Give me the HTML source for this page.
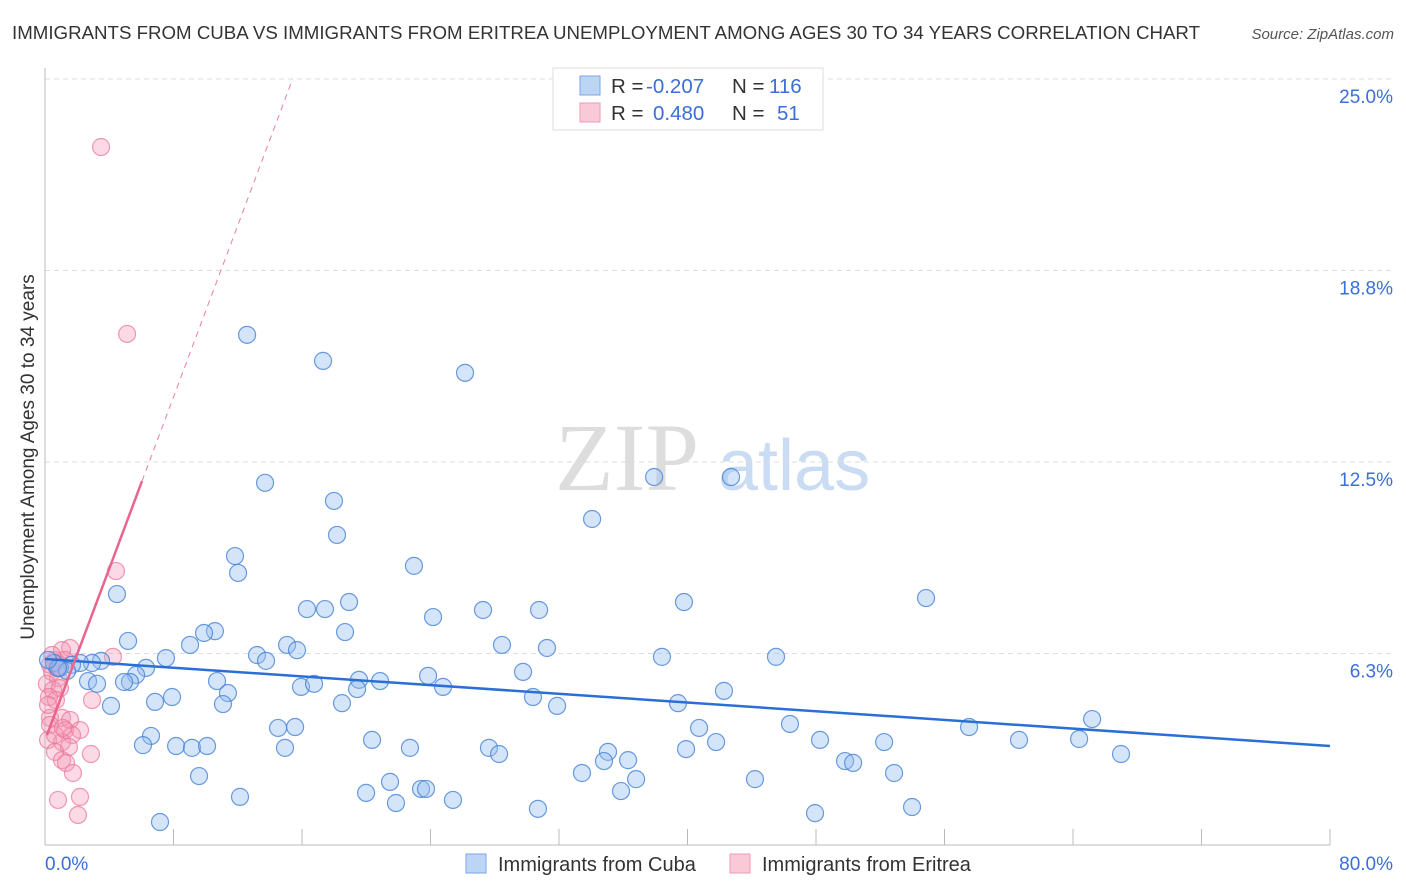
<!DOCTYPE html>
<html><head><meta charset="utf-8"><style>
body{margin:0;background:#fff;font-family:"Liberation Sans",sans-serif;}
svg{display:block}
</style></head><body>
<svg id="chart" width="1406" height="892">
<text x="12" y="39" font-size="18.7" fill="#333" textLength="1188">IMMIGRANTS FROM CUBA VS IMMIGRANTS FROM ERITREA UNEMPLOYMENT AMONG AGES 30 TO 34 YEARS CORRELATION CHART</text>
<text x="1394" y="39" font-size="15" fill="#555" font-style="italic" text-anchor="end">Source: ZipAtlas.com</text>
<g>
<text x="555" y="490" font-size="96" font-family="Liberation Serif,serif" fill="#ddd">ZIP</text>
<text x="718" y="490" font-size="72" fill="#c9dcf3">atlas</text>
</g>
<g id="grid"></g>
<g id="marks"></g>
<text transform="translate(34,457) rotate(-90)" font-size="19" fill="#333" text-anchor="middle">Unemployment Among Ages 30 to 34 years</text>
<text x="45" y="870" font-size="19" fill="#3b6fd6">0.0%</text>
<text x="1393" y="870" font-size="19" fill="#3b6fd6" text-anchor="end">80.0%</text>
<g>
<rect x="553" y="68" width="270" height="62" fill="#fff" stroke="#ddd"/>
<rect x="580" y="76" width="20" height="19" fill="#bcd5f5" stroke="#7aa6e6"/>
<rect x="580" y="103" width="20" height="19" fill="#f9c9d7" stroke="#ee9ab4"/>
<text x="611" y="93" font-size="20.5" fill="#333">R = </text><text x="646" y="93" font-size="20.5" fill="#3b6fd6">-0.207</text>
<text x="732" y="93" font-size="20.5" fill="#333">N = </text><text x="769" y="93" font-size="20.5" fill="#3b6fd6">116</text>
<text x="611" y="120" font-size="20.5" fill="#333">R = </text><text x="653" y="120" font-size="20.5" fill="#3b6fd6">0.480</text>
<text x="732" y="120" font-size="20.5" fill="#333">N = </text><text x="777" y="120" font-size="20.5" fill="#3b6fd6">51</text>
</g>
<g>
<rect x="466" y="854" width="20" height="19" fill="#bcd5f5" stroke="#7aa6e6"/>
<text x="498" y="871" font-size="20" fill="#333">Immigrants from Cuba</text>
<rect x="730" y="854" width="20" height="19" fill="#f9c9d7" stroke="#ee9ab4"/>
<text x="762" y="871" font-size="20" fill="#333">Immigrants from Eritrea</text>
</g>
</svg>
<script>
const yTicks=[6.25,12.5,18.75,25];
const yTickLabels=["6.3%","12.5%","18.8%","25.0%"];
const xTicks=[0,8,16,24,32,40,48,56,64,72,80];
const cubaX=[12.58,17.31,26.15,13.70,17.99,37.92,42.71,18.18,34.06,11.83,12.02,22.97,4.48,16.31,17.43,18.93,27.27,30.76,24.16,39.78,54.85,5.17,10.58,9.90,9.03,18.68,15.07,15.69,28.45,31.25,7.53,13.20,13.76,3.49,2.93,2.18,1.68,0.56,0.93,1.37,6.29,5.67,5.29,2.68,3.24,4.92,6.85,7.91,10.71,11.39,15.94,16.75,19.55,20.86,19.43,23.85,24.78,29.76,38.41,45.51,4.11,11.08,18.49,30.38,31.88,39.41,42.27,6.60,6.10,8.16,9.15,10.09,14.51,15.57,14.94,20.36,22.72,27.64,28.27,35.05,34.80,36.30,40.72,39.91,41.78,46.38,48.25,49.81,50.31,52.24,57.53,60.64,64.38,65.19,66.99,9.59,12.14,19.99,21.48,21.85,23.41,23.72,25.40,30.69,33.43,35.86,36.80,44.20,47.94,52.86,53.98,7.16,0.81,0.19];
const cubaY=[16.65,15.80,15.41,11.82,11.23,12.01,12.01,10.12,10.64,9.43,8.88,9.11,8.19,7.70,7.70,7.93,7.67,7.67,7.44,7.93,8.06,6.66,6.98,6.92,6.53,6.95,6.53,6.36,6.53,6.43,6.10,6.20,6.01,6.01,5.94,5.94,5.88,5.94,5.78,5.68,5.78,5.55,5.32,5.35,5.26,5.32,4.67,4.83,5.35,4.96,5.16,5.26,5.39,5.35,5.09,5.52,5.16,5.65,6.14,6.14,4.54,4.60,4.63,4.83,4.54,4.63,5.03,3.56,3.26,3.23,3.17,3.23,3.82,3.85,3.17,3.43,3.17,3.17,2.97,3.04,2.74,2.77,3.82,3.13,3.36,3.95,3.43,2.74,2.68,3.36,3.85,3.43,3.46,4.11,2.97,2.25,1.57,1.70,2.06,1.37,1.83,1.83,1.47,1.18,2.35,1.76,2.15,2.15,1.04,2.35,1.24,0.75,5.78,6.04];
const eritreaX=[3.49,5.11,4.42,4.23,1.56,1.06,0.62,0.31,0.44,0.81,0.12,0.50,0.93,0.25,0.68,2.93,0.31,1.06,1.56,0.31,1.25,2.18,1.68,0.19,1.06,1.49,0.62,2.86,1.06,1.31,1.74,0.81,2.18,2.05,0.93,1.25,0.19,0.62,1.12,0.75,0.44];
const eritreaY=[22.78,16.68,8.94,6.14,6.43,6.36,6.04,5.88,5.65,5.45,5.26,5.06,5.12,4.83,4.73,4.73,4.15,4.15,4.08,3.92,3.75,3.75,3.59,3.43,3.36,3.20,3.04,2.97,2.77,2.68,2.35,1.47,1.57,0.98,5.88,6.04,4.57,3.59,3.82,5.78,6.20];
const cubaTrend=[6.07,3.23];
const eritreaSlope=1.40, eritreaIntercept=3.42, eritreaSolidEnd=6.04;

const X0=45,X1=1330,Y0=845,Y1=79;
const xs=v=>X0+(v/80)*(X1-X0);
const ys=v=>Y0-(v/25)*(Y0-Y1);
const NS="http://www.w3.org/2000/svg";
function mk(t,a,p){const e=document.createElementNS(NS,t);for(const k in a)e.setAttribute(k,a[k]);p.appendChild(e);return e;}
const grid=document.getElementById('grid'),marks=document.getElementById('marks');
yTicks.forEach((v,i)=>{
 const l=mk('line',{x1:X0,x2:1395,y1:ys(v),y2:ys(v),stroke:'#ddd','stroke-dasharray':'5,4'},grid);
 
 
 const t=mk('text',{x:1393,y:ys(v)+24,'font-size':19,fill:'#3b6fd6','text-anchor':'end'},grid);
 t.textContent=yTickLabels[i];
 
 
});
const ax=mk('line',{x1:X0,x2:X1,y1:Y0,y2:Y0,stroke:'#bbb'},grid);


const ay=mk('line',{x1:X0,x2:X0,y1:68,y2:Y0,stroke:'#bbb'},grid);


xTicks.forEach(v=>{
 const t=mk('line',{x1:xs(v),x2:xs(v),y1:Y0-16,y2:Y0,stroke:'#bbb'},grid);
 
 
});
eritreaX.forEach((v,i)=>{
 const c=mk('circle',{cx:xs(v),cy:ys(eritreaY[i]),r:8.5,fill:'rgba(244,150,180,0.35)',stroke:'rgba(236,120,155,0.75)','stroke-width':1.2},marks);
 
 
});
cubaX.forEach((v,i)=>{
 const c=mk('circle',{cx:xs(v),cy:ys(cubaY[i]),r:8.5,fill:'rgba(150,190,240,0.4)',stroke:'rgba(70,130,215,0.8)','stroke-width':1.2},marks);
 
 
});
const tb=mk('line',{x1:xs(0),y1:ys(cubaTrend[0]),x2:xs(80),y2:ys(cubaTrend[1]),stroke:'#2a6fd6','stroke-width':2.5},marks);


const xe=(25-eritreaIntercept)/eritreaSlope;
const td=mk('line',{x1:xs(eritreaSolidEnd),y1:ys(eritreaIntercept+eritreaSlope*eritreaSolidEnd),x2:xs(xe),y2:ys(25),stroke:'#e8809f','stroke-width':1,'stroke-dasharray':'6,5'},marks);


const ts=mk('line',{x1:xs(0.12),y1:ys(eritreaIntercept+eritreaSlope*0.12),x2:xs(eritreaSolidEnd),y2:ys(eritreaIntercept+eritreaSlope*eritreaSolidEnd),stroke:'#e8658e','stroke-width':2.5},marks);


</script>
</body></html>
